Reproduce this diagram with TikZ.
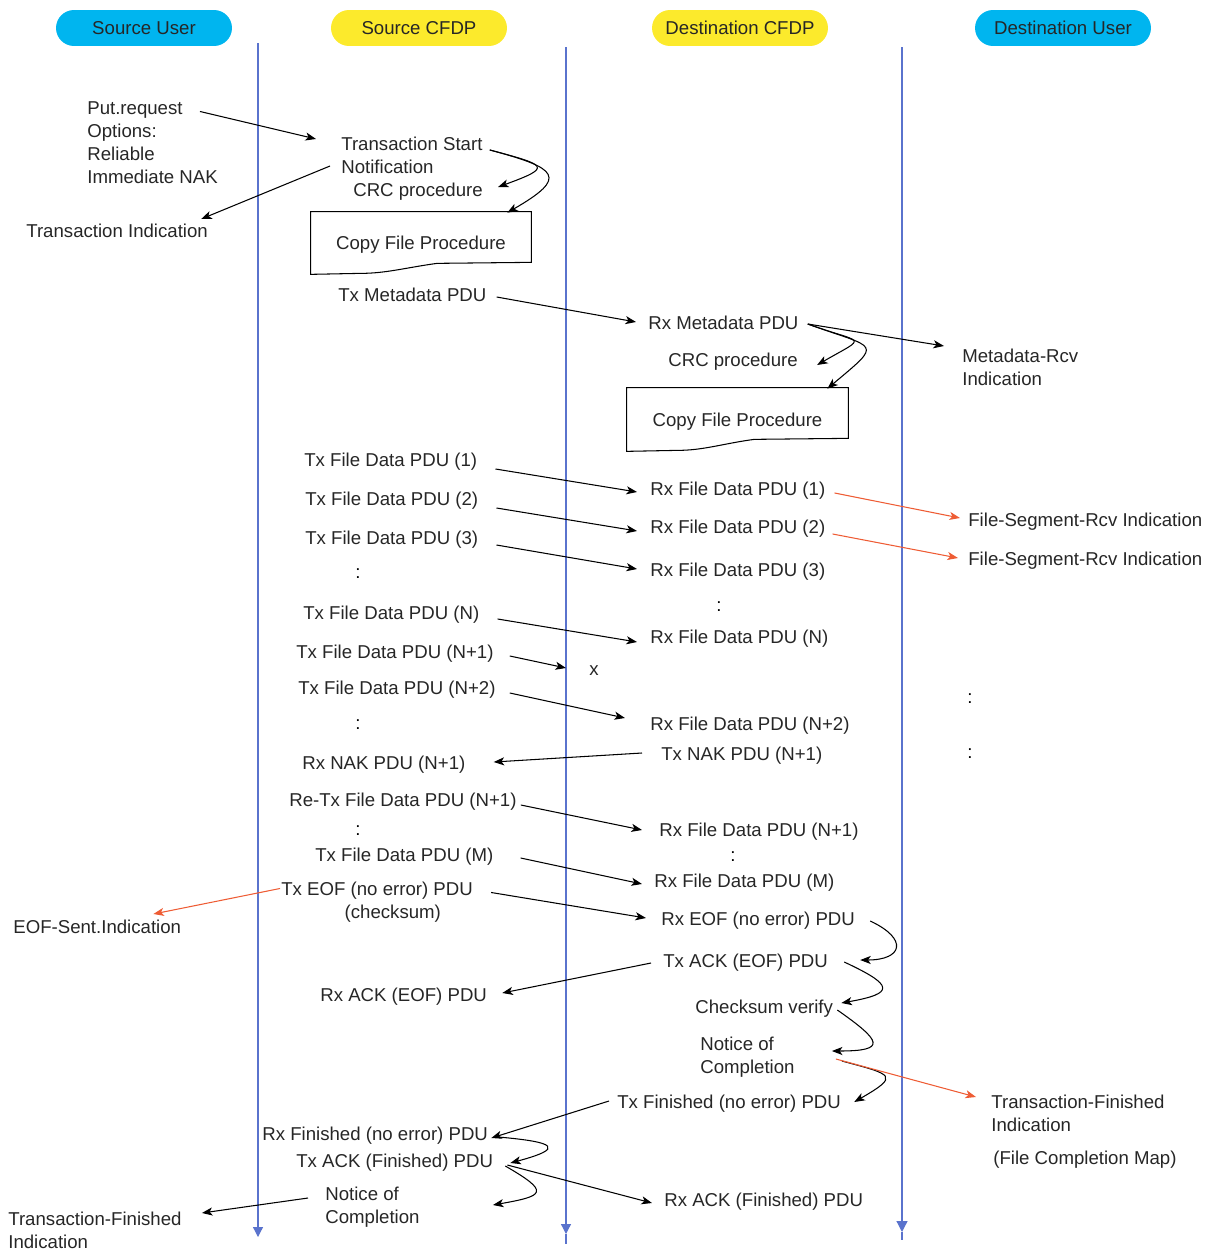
\documentclass[tikz,border=0pt]{standalone}
\usepackage{fontspec}
\setmainfont{Liberation Sans}
\usetikzlibrary{arrows.meta,calc}
\definecolor{usercol}{RGB}{0,181,239}
\definecolor{cfdpcol}{RGB}{252,234,44}
\definecolor{lifecol}{RGB}{90,115,205}
\definecolor{indcol}{RGB}{238,92,52}
\begin{document}
\begin{tikzpicture}[x=0.02cm,y=0.02cm,font=\fontsize{10.6}{13}\selectfont,
  hdr/.style={rounded corners=0.36cm,minimum width=3.52cm,minimum height=0.72cm,inner sep=0pt,text=black!85},
  txt/.style={anchor=west,inner sep=0pt,align=left,text depth=0pt,text=black!85},
  proc/.style={inner sep=0pt,minimum width=4.4cm,minimum height=1.24cm,text depth=0pt,text=black!85},
  msg/.style={draw,line width=0.6pt,-{Stealth[length=6pt,width=4.6pt,inset=1.6pt]}},
  ind/.style={msg,draw=indcol},
  life/.style={draw=lifecol,line width=0.7pt}]
\useasboundingbox (0,0) rectangle (1205,-1251);

\node[hdr,fill=usercol] (su) at (144,-28) {Source User};
\node[hdr,fill=cfdpcol] (sc) at (419,-28) {Source CFDP};
\node[hdr,fill=cfdpcol] (dc) at (740,-28) {Destination CFDP};
\node[hdr,fill=usercol] (du) at (1063,-28) {Destination User};

\path[life,-{Triangle[length=0.2cm,width=0.2cm]}] (258,-43) -- (258,-1237);
\path[life,-{Triangle[length=0.2cm,width=0.2cm]}] (566,-47) -- (566,-1234);
\path[life] (566,-1234) -- (566,-1244);
\path[life,-{Triangle[length=0.22cm,width=0.22cm]}] (902,-47) -- (902,-1232);
\path[life] (902,-1232) -- (902,-1240);

\node[txt] (put) at (87,-142.5) {Put.request\\Options:\\Reliable\\Immediate NAK};
\node[txt] (tind) at (26,-231) {Transaction Indication};
\node[txt] (tstart) at (341,-155.5) {Transaction Start\\Notification};
\node[txt] (crc1) at (353,-190) {CRC procedure};
\node[proc] (cfp1) at (421,-243) {Copy File Procedure};
\node[txt] (txmeta) at (338,-295) {Tx Metadata PDU};
\node[txt] (rxmeta) at (648,-323) {Rx Metadata PDU};
\node[txt] (crc2) at (668,-360) {CRC procedure};
\node[txt] (mrcv) at (962,-367.5) {Metadata-Rcv\\Indication};
\node[proc,minimum width=4.42cm,minimum height=1.26cm] (cfp2) at (737.5,-419.5) {Copy File Procedure};

\node[txt] (tx1) at (304,-460) {Tx File Data PDU (1)};
\node[txt] (tx2) at (305,-499) {Tx File Data PDU (2)};
\node[txt] (tx3) at (305,-538) {Tx File Data PDU (3)};
\node[txt] (txn) at (303,-613) {Tx File Data PDU (N)};
\node[txt] (txn1) at (296,-652) {Tx File Data PDU (N+1)};
\node[txt] (txn2) at (298,-688) {Tx File Data PDU (N+2)};
\node[txt] (rx1) at (650,-489) {Rx File Data PDU (1)};
\node[txt] (rx2) at (650,-527) {Rx File Data PDU (2)};
\node[txt] (rx3) at (650,-570) {Rx File Data PDU (3)};
\node[txt] (rxn) at (650,-637) {Rx File Data PDU (N)};
\node[txt] (rxn2) at (650,-724) {Rx File Data PDU (N+2)};
\node[txt] (fsr1) at (968,-520) {File-Segment-Rcv Indication};
\node[txt] (fsr2) at (968,-559) {File-Segment-Rcv Indication};
\node[text=black!85,inner sep=0pt] (lostx) at (594,-671) {x};
\coordinate (lost) at (566,-668);

\node[inner sep=0pt] (c1) at (358,-574) {:};
\node[inner sep=0pt] (c2) at (719,-607) {:};
\node[inner sep=0pt] (c3) at (358,-725) {:};
\node[inner sep=0pt] (c4) at (970,-699) {:};
\node[inner sep=0pt] (c5) at (970,-754) {:};
\node[inner sep=0pt] (c6) at (358,-831) {:};
\node[inner sep=0pt] (c7) at (733,-857) {:};

\node[txt] (naktx) at (661,-754) {Tx NAK PDU (N+1)};
\node[txt] (nakrx) at (302,-763) {Rx NAK PDU (N+1)};
\node[txt] (retx) at (289,-800) {Re-Tx File Data PDU (N+1)};
\node[txt] (rxn1) at (659,-830) {Rx File Data PDU (N+1)};
\node[txt] (txm) at (315,-855) {Tx File Data PDU (M)};
\node[txt] (rxm) at (654,-881) {Rx File Data PDU (M)};
\node[txt] (eoftx) at (281,-900) {Tx EOF (no error) PDU\\\hspace*{3.4em}(checksum)};
\node[txt] (eofsent) at (13,-927) {EOF-Sent.Indication};
\node[txt] (eofrx) at (661,-919) {Rx EOF (no error) PDU};
\node[txt] (acktx) at (663,-961) {Tx ACK (EOF) PDU};
\node[txt] (ackrx) at (320,-995) {Rx ACK (EOF) PDU};
\node[txt] (chk) at (695,-1007) {Checksum verify};
\node[txt] (notice) at (700,-1055.5) {Notice of\\Completion};
\node[txt] (tfin) at (991,-1113.5) {Transaction-Finished\\Indication};
\node[txt] (fcm) at (993,-1158) {(File Completion Map)};
\node[txt] (fintx) at (617,-1102) {Tx Finished (no error) PDU};
\node[txt] (finrx) at (262,-1134) {Rx Finished (no error) PDU};
\node[txt] (ackftx) at (296,-1161) {Tx ACK (Finished) PDU};
\node[txt] (ackfrx) at (664,-1200) {Rx ACK (Finished) PDU};
\node[txt] (notice2) at (325,-1205.5) {Notice of\\Completion};
\node[txt] (tfin2) at (8,-1230.5) {Transaction-Finished\\Indication};

\path[draw,line width=0.6pt] (cfp1.north west) -- (cfp1.north east) -- ($(cfp1.south east)+(0,12)$) -- ($(cfp1.south east)+(-94,11)$) .. controls ($(cfp1.south east)+(-124,7)$) and ($(cfp1.south east)+(-145,1)$) .. ($(cfp1.south east)+(-170,1)$) -- (cfp1.south west) -- cycle;
\path[draw,line width=0.6pt] (cfp2.north west) -- (cfp2.north east) -- ($(cfp2.south east)+(0,13)$) -- ($(cfp2.south east)+(-94,12)$) .. controls ($(cfp2.south east)+(-124,8)$) and ($(cfp2.south east)+(-145,1)$) .. ($(cfp2.south east)+(-170,1)$) -- (cfp2.south west) -- cycle;

\path[msg] ($(put.north west)+(113,-10)$) -- ($(tstart.north west)+(-25,-2)$);
\path[msg] ($(tstart.west)+(-11,-10.5)$) -- ($(tind.east)+(-7,12)$);
\path[msg] ($(tstart.north east)+(7,-13)$) to[out=-15,in=20,distance=1.18cm] ($(crc1.east)+(15,3)$);
\path[msg] ($(tstart.north east)+(7,-13)$) to[out=-15,in=30,distance=1.42cm] ($(cfp1.north east)+(-24,-1)$);
\path[msg] ($(txmeta.east)+(10,-2)$) -- ($(rxmeta.west)+(-12,1)$);
\path[msg] ($(rxmeta.east)+(9,-1)$) -- ($(mrcv.north west)+(-18,3)$);
\path[msg] ($(rxmeta.east)+(9,-1)$) to[out=-20,in=30,distance=1.2cm] ($(crc2.east)+(19,-5)$);
\path[msg] ($(rxmeta.east)+(9,-1)$) to[out=-20,in=40,distance=1.48cm] ($(cfp2.north east)+(-21,-1)$);

\path[msg] ($(tx1.east)+(18,-9)$) -- ($(rx1.west)+(-13,-3)$);
\path[msg] ($(tx2.east)+(18,-9)$) -- ($(rx2.west)+(-13,-4)$);
\path[msg] ($(tx3.east)+(18,-7)$) -- ($(rx3.west)+(-13,1)$);
\path[msg] ($(txn.east)+(18,-6)$) -- ($(rxn.west)+(-13,-5)$);
\path[msg] ($(txn1.east)+(16,-4)$) -- (lost);
\path[msg] ($(txn2.east)+(14,-5)$) -- ($(rxn2.west)+(-25,6)$);
\path[ind] ($(rx1.east)+(9,-4)$) -- ($(fsr1.west)+(-8,2)$);
\path[ind] ($(rx2.east)+(7,-7)$) -- ($(fsr2.west)+(-10,1)$);

\path[msg] ($(naktx.west)+(-19,1)$) -- ($(nakrx.east)+(28,1)$);
\path[msg] ($(retx.east)+(4,-5)$) -- ($(rxn1.west)+(-17,0)$);
\path[msg] ($(txm.east)+(27,-3)$) -- ($(rxm.west)+(-12,-3)$);
\path[msg] ($(eoftx.north east)+(18,-11)$) -- ($(eofrx.west)+(-15,1)$);
\path[ind] ($(eoftx.north west)+(-1,-7)$) -- ($(eofsent.east)+(-28,13)$);
\path[msg] ($(eofrx.east)+(15,-2)$) to[out=-25,in=0,distance=0.85cm] ($(acktx.east)+(32,1)$);
\path[msg] ($(acktx.west)+(-12,-2)$) -- ($(ackrx.east)+(15,2)$);
\path[msg] ($(acktx.east)+(16,-1)$) to[out=-25,in=10,distance=1.1cm] ($(chk.east)+(8,4)$);
\path[msg] ($(chk.east)+(4,-3)$) to[out=-35,in=0,distance=1.1cm] ($(notice.east)+(37,4.5)$);
\path[msg] ($(notice.east)+(47,-5.5)$) to[out=-15,in=30,distance=1.06cm] ($(fintx.east)+(13,0)$);
\path[ind] ($(notice.east)+(41,-3.5)$) -- ($(tfin.north west)+(-15,-2)$);
\path[msg] ($(fintx.west)+(-8,1)$) -- ($(finrx.east)+(3,-4)$);
\path[msg] ($(finrx.east)+(10,-3)$) to[out=-5,in=15,distance=1.15cm] ($(ackftx.east)+(17,-2)$);
\path[msg] ($(ackftx.east)+(14,-4)$) -- ($(ackfrx.west)+(-12,-3)$);
\path[msg] ($(ackftx.east)+(12,-5)$) to[out=-30,in=10,distance=1.05cm] ($(notice2.east)+(73,0.5)$);
\path[msg] ($(notice2.west)+(-17,7.5)$) -- ($(tfin2.north east)+(20,-1)$);
\end{tikzpicture}
\end{document}
